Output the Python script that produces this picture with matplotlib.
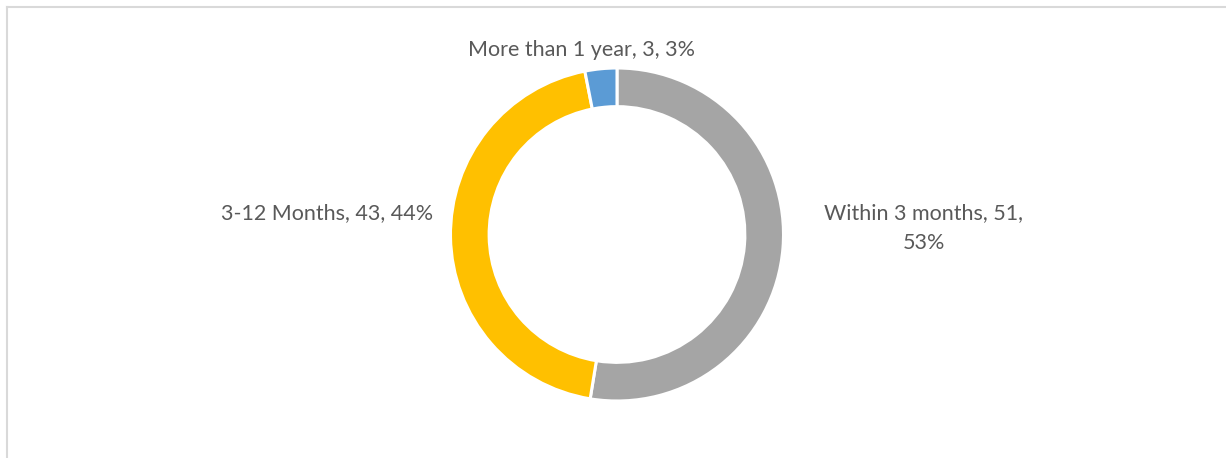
import matplotlib
matplotlib.use("Agg")
import matplotlib.pyplot as plt
from matplotlib.lines import Line2D

categories = ["Within 3 months", "3-12 Months", "More than 1 year"]
counts = [51, 43, 3]
colors = ["#A5A5A5", "#FFC000", "#5B9BD5"]

W, H = 1226, 458
fig = plt.figure(figsize=(W / 100, H / 100), dpi=100)
fig.patch.set_facecolor("white")
ax = fig.add_axes([0, 0, 1, 1])
ax.set_xlim(0, W)
ax.set_ylim(0, H)
ax.set_aspect("equal")
ax.axis("off")

cx, cy = 617, H - 234.5
radius = 166.5
ax.pie(counts, colors=colors, startangle=90, counterclock=False,
       center=(cx, cy), radius=radius, frame=True,
       wedgeprops=dict(width=radius * 0.232, edgecolor="white", linewidth=2.2))
ax.set_xlim(0, W)
ax.set_ylim(0, H)
ax.axis("off")

total = sum(counts)
labels = [f"{c}, {v}, {round(v / total * 100)}%" for c, v in zip(categories, counts)]

txt = dict(fontsize=15.5, color="#595959", family="Lato")
# Within 3 months (wrapped over two lines)
parts = labels[0].rsplit(" ", 1)
ax.text(924, H - 228, parts[0] + "\n" + parts[1], ha="center", va="center",
        linespacing=1.62, **txt)
# 3-12 Months
ax.text(433, H - 213, labels[1], ha="right", va="center", **txt)
# More than 1 year
ax.text(582, H - 50, labels[2], ha="center", va="center", **txt)

# chart-area frame
fig.add_artist(Line2D([7 / W, 1], [1 - 7 / H, 1 - 7 / H], color="#D9D9D9", lw=1.5,
                      transform=fig.transFigure))
fig.add_artist(Line2D([7 / W, 7 / W], [0, 1 - 7 / H], color="#D9D9D9", lw=1.5,
                      transform=fig.transFigure))

fig.savefig("out.png", dpi=100, facecolor="white")
